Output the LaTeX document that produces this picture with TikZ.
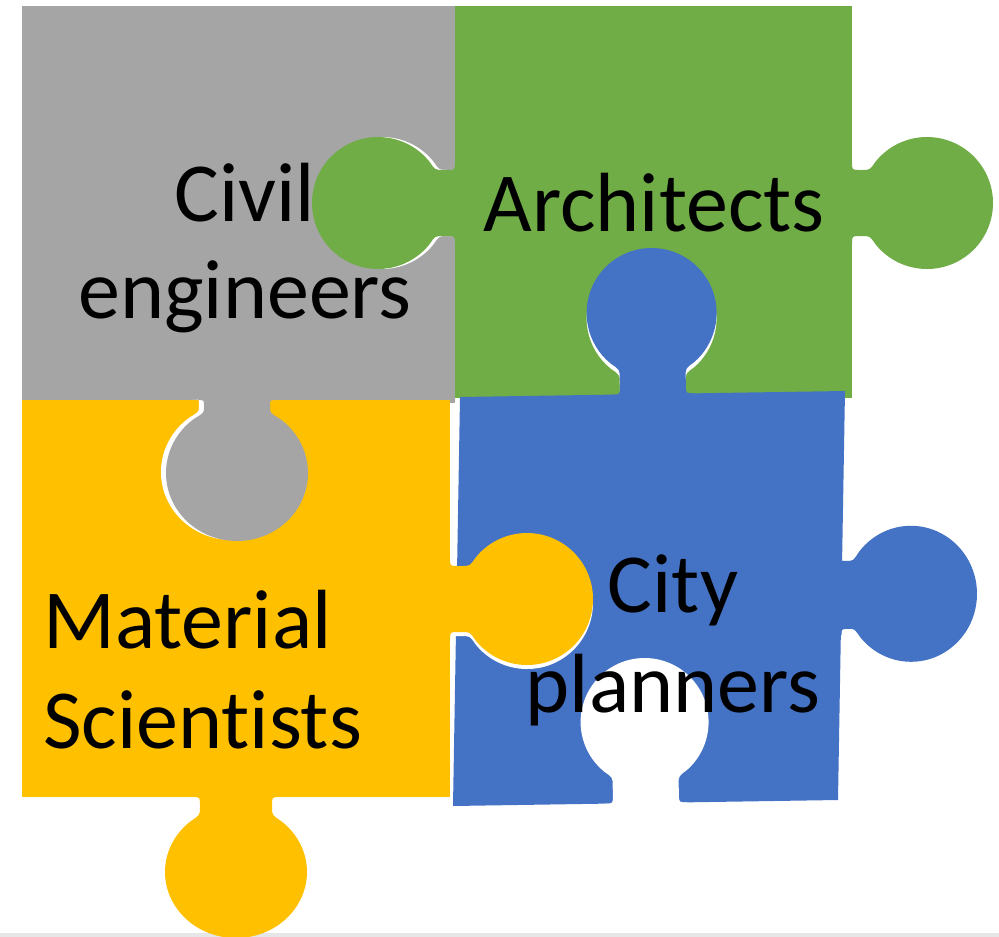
\documentclass[tikz,border=0pt]{standalone}
\usepackage{fontspec}
\setmainfont{Carlito}[Ligatures={NoCommon}]
\definecolor{pgray}{HTML}{A5A5A5}
\definecolor{pgreen}{HTML}{70AD47}
\definecolor{pblue}{HTML}{4472C4}
\definecolor{pyellow}{HTML}{FFC000}
\definecolor{strip}{HTML}{E6E6E6}
% #1 x, #2 y, #3 rotation, #4 centre distance, #5 radius across, #6 radius outward, #7 neck half-width, #8 fill options, #9 overlap into own piece
\newcommand\knob[9]{%
\begin{scope}[shift={(#1,#2)},rotate=#3]
\pgfmathsetmacro\kj{#4-#6*sqrt(1-(#7/#5)^2)}%
\pgfmathsetmacro\kf{min(8,0.45*\kj)}%
\pgfmathsetmacro\kt{180+acos(#7/#5)}%
\pgfmathsetmacro\ks{\kt-9}%
\pgfmathsetmacro\ke{180-\kt+9}%
\fill[#8] (-#7-\kf,-#9) -- (-#7-\kf,0) .. controls (-#7,0) .. (-#7,\kf)
  -- (-#7,\kj-\kf) .. controls (-#7,\kj) .. ({#5*cos(\ks)},{#4+#6*sin(\ks)})
  arc[start angle=\ks, end angle=\ke, x radius=#5, y radius=#6]
  .. controls (#7,\kj) .. (#7,\kj-\kf) -- (#7,\kf) .. controls (#7,0) .. (#7+\kf,0)
  -- (#7+\kf,-#9) -- cycle;
\end{scope}}
\tikzset{
  label/.style={inner sep=0pt, font=\fontsize{84}{100}\selectfont, text=black},
  shadow/.style={fill=white}
}
\begin{document}
\begin{tikzpicture}[x=1pt,y=-1pt]
\useasboundingbox (0,0) rectangle (999,937);
\fill[white] (0,0) rectangle (999,937);
\fill[strip] (0,933) rectangle (999,937);
% base pieces
\fill[pgray] (22,6) rectangle (455,403);
\fill[pgreen] (455,6) rectangle (852,398);
\fill[pyellow] (22,400) rectangle (450,797);
\fill[pblue] (460,397) -- (845,391) -- (838,800) -- (453,806) -- cycle;
% white gaps around inserted tabs
\knob{232}{399}{0}{73}{71}{68}{33}{shadow}{0}
\knob{459}{203}{-90}{77}{66}{66}{33}{shadow}{0}
\knob{450}{603}{90}{77}{66}{66}{33}{shadow}{0}
\knob{653}{399}{181}{81}{65}{65}{33}{shadow}{0}
% tabs
\knob{237}{400}{0}{73}{71}{68}{33}{pgray}{8}
\knob{455}{203}{-90}{77}{66}{66}{33}{pgreen}{8}
\knob{852}{203}{90}{75}{66}{66}{33}{pgreen}{8}
\knob{450}{599}{90}{77}{66}{66}{33}{pyellow}{8}
\knob{236}{797}{0}{75}{71}{66}{36}{pyellow}{8}
\knob{653}{394}{181}{81}{65}{65}{33}{pblue}{8}
\knob{841}{595}{91}{70}{68}{66}{34}{pblue}{8}
% hole in the bottom of the blue piece
\knob{646}{803}{181}{81}{64}{64}{33}{white}{8}
% labels
\node[label, anchor=base] (civ1) at (245,221) {Civil};
\node[label, anchor=base] (civ2) at (245,318) {engineers};
\node[label, anchor=base] (arch) at (654,231) {Architects};
\node[label, anchor=base west] (mat1) at (43,648) {Material};
\node[label, anchor=base west] (mat2) at (43,748) {Scientists};
\node[label, anchor=base] (city1) at (673,612) {City};
\node[label, anchor=base] (city2) at (673,712) {planners};
\end{tikzpicture}
\end{document}
